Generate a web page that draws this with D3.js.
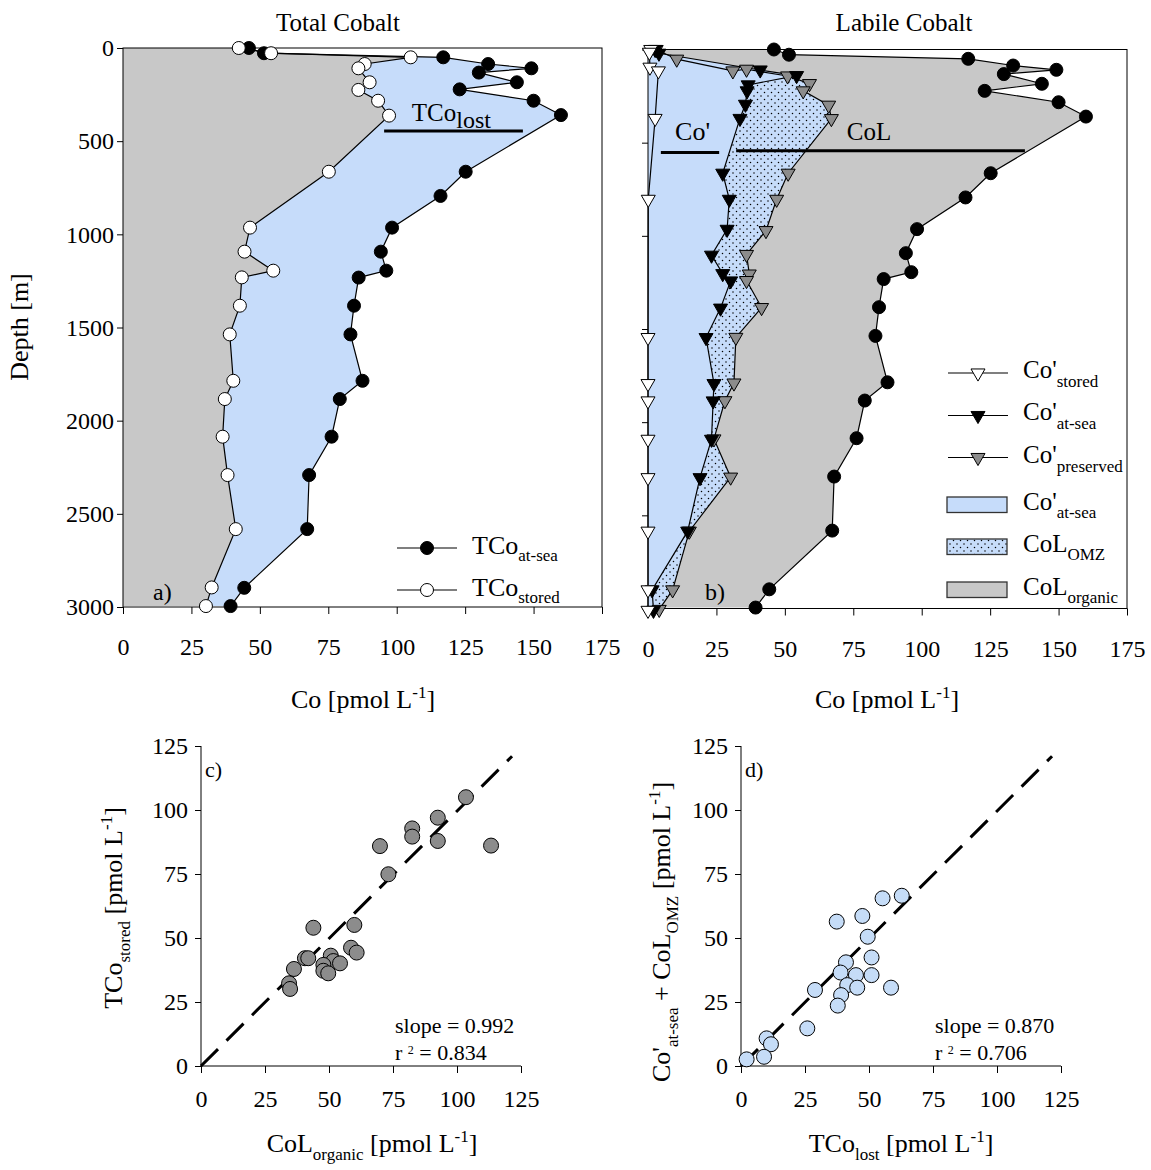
<!DOCTYPE html>
<html><head><meta charset="utf-8">
<script src="https://cdn.jsdelivr.net/npm/d3@7"></script>
<style>
body{margin:0;background:#fff}
text{font-family:"Liberation Serif","Times New Roman",serif;fill:#000;white-space:pre}
</style>
</head><body>
<svg id="chart" width="1151" height="1170"></svg>
<script>
// ---------------- DATA ----------------
// Panel a / b : total cobalt at sea (black circles)
const tcoSeaDepth = [0,28,50,86,109,132,184,222,283,360,664,794,964,1093,1195,1232,1383,1537,1786,1884,2086,2292,2582,2897,2995];
const tcoSea      = [46,51.5,117,133.4,149.2,130,143.9,123,150,160,125.2,116,98.3,94.2,96.2,86.1,84.4,83.1,87.5,79.2,76.2,68,67.3,44.3,39.3];
// Panel a : total cobalt stored (white circles)
const tcoStoredDepth = [0,28,50,86,109,184,225,283,363,664,964,1093,1195,1231,1383,1537,1786,1884,2086,2292,2582,2895,2995];
const tcoStored      = [42.3,54.1,105.1,88.3,86,90.1,86,93.2,97.2,75.2,46.4,44.4,54.9,43.4,42.7,39,40.3,37.2,36.4,38.2,41.2,32.4,30.3];
// Panel b : Co' preserved (grey triangles)
const coPresDepth = [0,52,115,106,142,183,222,299,371,664,804,972,1100,1205,1240,1385,1545,1790,1885,2090,2295,2585,2900,3005];
const coPres      = [3,10.5,31,36,51,59,56.7,66,67,51.2,47,43.1,36,37,36,41.5,32.1,31.4,28.1,24.1,30.2,15.1,9,4.1];
// Panel b : Co' at sea (black triangles)
const coSeaDepth = [0,20,110,140,190,222,294,370,664,804,965,1104,1203,1242,1388,1546,1793,1886,2092,2298,2585,2900,3010];
const coSea      = [2.6,4,41,54.3,36.6,36.2,35.6,33.6,27.3,29.7,28.9,23.2,27.3,30.2,26.5,21.2,24.1,23.8,23.2,19,14.5,1.5,2];
// Panel b : Co' stored (white triangles)
const coStoredDepth = [0,15,95,115,370,804,1546,1793,1886,2092,2298,2585,2900,3010];
const coStored      = [1,0.5,0.7,3.8,2.6,0.1,0,0,0,0,0,0,0,0];
// Panel c
const colOrganic = [103.5,92.5,82.5,82.5,92.5,113.3,69.9,73.2,43.9,59.9,58.6,60.8,40.6,41.9,50.7,51.7,54.3,47.8,47.8,49.7,36.3,34.4,34.8];
const tcoStoredC = [105,97,92.8,89.6,87.9,86.1,85.9,74.9,54,55.1,46.2,44.3,42.1,42.1,43.1,41,40.1,39.5,37.2,36.2,37.9,32.3,30.1];
// Panel d
const tcoLost = [62.8,55.3,47.4,37.4,49.5,51,41,38.9,44.9,51,41.5,45.4,58.6,28.9,39.1,37.8,25.9,10,11.7,9,2.2];
const coSum   = [66.5,65.5,58.6,56.4,50.5,42.4,40.5,36.5,35.5,35.5,31.6,30.6,30.6,29.7,27.7,23.6,14.7,10.8,8.5,3.6,2.6];
// ticks
const coTicks = [0,25,50,75,100,125,150,175];
const depthTicks = [0,500,1000,1500,2000,2500,3000];
const scTicks = [0,25,50,75,100,125];
const refLine = [[0,0],[121.5,121]];

// ---------------- STYLE ----------------
const BLUE = '#c6dcfa', GRAY = '#c8c8c8', MGRAY = '#8c8c8c', DBLUE = '#c5dcf7';
const svg = d3.select('#chart');
const defs = svg.append('defs');
const pat = defs.append('pattern').attr('id','dots').attr('width',7).attr('height',7).attr('patternUnits','userSpaceOnUse');
pat.append('rect').attr('width',7).attr('height',7).attr('fill',BLUE);
pat.append('circle').attr('cx',1.5).attr('cy',1.5).attr('r',0.75).attr('fill','#000');
pat.append('circle').attr('cx',5).attr('cy',5).attr('r',0.75).attr('fill','#000');

function rich(g, x, y, parts, opt = {}) {
  const t = g.append('text').attr('x', x).attr('y', y)
    .attr('font-size', opt.size || 25).attr('text-anchor', opt.anchor || 'start');
  if (opt.rotate) t.attr('transform', `rotate(-90,${x},${y})`);
  let shift = 0;
  parts.forEach(p => {
    const [s, k, sz] = typeof p === 'string' ? [p] : p;
    const ts = t.append('tspan').text(s);
    const target = k === 'sub' ? (opt.subOff || 8) : k === 'sup' ? -(opt.supOff || 10) : 0;
    if (target !== shift) ts.attr('dy', target - shift);
    shift = target;
    if (k) ts.attr('font-size', sz || opt.subSize || 17);
  });
  return t;
}
const pts = (ds, vs) => ds.map((d, i) => [vs[i], d]);

function styleAxis(g, size) {
  g.select('.domain').remove();
  g.selectAll('.tick line').attr('stroke', '#000');
  g.selectAll('.tick text').attr('font-size', size).attr('font-family', '"Liberation Serif",serif').attr('fill', '#000');
}

// ---------------- PROFILE PANELS ----------------
function profilePanel(x0, x1, y0, y1, yLabels) {
  const x = d3.scaleLinear().domain([0,175]).range([x0,x1]);
  const y = d3.scaleLinear().domain([0,3000]).range([y0,y1]);
  const g = svg.append('g');
  const gx = g.append('g').attr('transform', `translate(0,${y1})`)
    .call(d3.axisBottom(x).tickValues(coTicks).tickSize(7).tickPadding(24).tickSizeOuter(0));
  styleAxis(gx, 24);
  const gy = g.append('g').attr('transform', `translate(${x0},0)`)
    .call(d3.axisLeft(y).tickValues(depthTicks).tickSize(6).tickPadding(3).tickSizeOuter(0)
      .tickFormat(yLabels ? d3.format('d') : ''));
  styleAxis(gy, 24);
  return {x, y, g};
}
const line = (P) => d3.line().x(d => P.x(d[0])).y(d => P.y(d[1]));
function fillArea(P, data, fill) {
  const poly = [[0, data[0][1]], ...data, [0, data[data.length-1][1]]];
  P.g.append('path').attr('d', line(P)(poly) + 'Z').attr('fill', fill).attr('stroke', 'none');
}
function drawLine(P, data) {
  P.g.append('path').attr('d', line(P)(data)).attr('fill', 'none').attr('stroke', '#000').attr('stroke-width', 1.2);
}
function drawCircles(P, data, fill) {
  P.g.append('g').selectAll('circle').data(data).join('circle')
    .attr('cx', d => P.x(d[0])).attr('cy', d => P.y(d[1])).attr('r', 6.5)
    .attr('fill', fill).attr('stroke', '#000').attr('stroke-width', 1);
}
const tri = d3.symbol().type(d3.symbolTriangle).size(85);
function drawTris(P, data, fill) {
  P.g.append('g').selectAll('path').data(data).join('path')
    .attr('d', tri).attr('transform', d => `translate(${P.x(d[0])},${P.y(d[1])}) rotate(180)`)
    .attr('fill', fill).attr('stroke', '#000').attr('stroke-width', 1);
}
function frame(P) {
  const [a, b] = P.x.range(), [c, d] = P.y.range();
  P.g.append('rect').attr('x', a).attr('y', c).attr('width', b - a).attr('height', d - c)
    .attr('fill', 'none').attr('stroke', '#000').attr('stroke-width', 1);
}

// Panel a
const A = profilePanel(123, 602, 48, 607, true);
const seaA = pts(tcoSeaDepth, tcoSea), stA = pts(tcoStoredDepth, tcoStored);
fillArea(A, seaA, BLUE);
fillArea(A, stA, GRAY);
frame(A);
drawLine(A, seaA); drawLine(A, stA);
drawCircles(A, seaA, '#000'); drawCircles(A, stA, '#fff');
rich(A.g, A.x(105.5), A.y(392), ['TCo', ['lost', 'sub', 24]], {size: 25, subOff: 7});
A.g.append('line').attr('x1', A.x(95.4)).attr('x2', A.x(146.1)).attr('y1', A.y(445)).attr('y2', A.y(445))
  .attr('stroke', '#000').attr('stroke-width', 3);
rich(A.g, 153, 600, ['a)'], {size: 24});
// legend a
[[548, 554, '#000', 'at-sea'], [590, 596, '#fff', 'stored']].forEach(([ly, tb, f, s]) => {
  A.g.append('line').attr('x1', 397).attr('x2', 457).attr('y1', ly).attr('y2', ly).attr('stroke', '#000').attr('stroke-width', 1.2);
  A.g.append('circle').attr('cx', 427).attr('cy', ly).attr('r', 6.5).attr('fill', f).attr('stroke', '#000');
  rich(A.g, 472, tb, ['TCo', [s, 'sub']], {size: 26, subOff: 7});
});

// Panel b
const B = profilePanel(648, 1127, 49.5, 608.5, false);
const seaB = pts(tcoSeaDepth, tcoSea), presB = pts(coPresDepth, coPres), coSeaB = pts(coSeaDepth, coSea), coStB = pts(coStoredDepth, coStored);
fillArea(B, seaB, GRAY);
fillArea(B, presB, 'url(#dots)');
fillArea(B, coSeaB, BLUE);
frame(B);
drawLine(B, seaB); drawLine(B, presB); drawLine(B, coSeaB); drawLine(B, coStB);
drawCircles(B, seaB, '#000');
drawTris(B, presB, MGRAY);
drawTris(B, coSeaB, '#000');
drawTris(B, coStB, '#fff');
rich(B.g, B.x(9.9), B.y(488), ["Co'"], {size: 26});
B.g.append('line').attr('x1', B.x(4.7)).attr('x2', B.x(26)).attr('y1', B.y(553)).attr('y2', B.y(553)).attr('stroke', '#000').attr('stroke-width', 3);
rich(B.g, B.x(72.6), B.y(488), ['CoL'], {size: 25});
B.g.append('line').attr('x1', B.x(32.2)).attr('x2', B.x(137.7)).attr('y1', B.y(544)).attr('y2', B.y(544)).attr('stroke', '#000').attr('stroke-width', 3);
rich(B.g, 705, 600, ['b)'], {size: 24});
// legend b
[[373, 378, '#fff', 'stored'], [415.5, 420, '#000', 'at-sea'], [457.5, 463, MGRAY, 'preserved']].forEach(([ly, tb, f, s]) => {
  B.g.append('line').attr('x1', 948).attr('x2', 1008).attr('y1', ly).attr('y2', ly).attr('stroke', '#000').attr('stroke-width', 1.2);
  B.g.append('path').attr('d', tri).attr('transform', `translate(978,${ly}) rotate(180)`).attr('fill', f).attr('stroke', '#000');
  rich(B.g, 1023, tb, ["Co'", [s, 'sub']], {size: 25, subOff: 9});
});
[[497, 510, BLUE, "Co'", 'at-sea'], [539, 552, 'url(#dots)', 'CoL', 'OMZ'], [582, 595, GRAY, 'CoL', 'organic']].forEach(([ry, tb, f, m, s]) => {
  B.g.append('rect').attr('x', 947).attr('y', ry).attr('width', 60).attr('height', 15.5).attr('fill', f).attr('stroke', '#333').attr('stroke-width', 1.3);
  rich(B.g, 1023, tb, [m, [s, 'sub']], {size: 25, subOff: 8});
});

// axis & titles for a/b
rich(svg, 338, 31, ['Total Cobalt'], {size: 25, anchor: 'middle'});
rich(svg, 904, 31, ['Labile Cobalt'], {size: 25, anchor: 'middle'});
rich(svg, 363, 708, ['Co [pmol L', ['-1', 'sup'], ']'], {size: 26, anchor: 'middle'});
rich(svg, 887, 708, ['Co [pmol L', ['-1', 'sup'], ']'], {size: 26, anchor: 'middle'});
rich(svg, 28, 327, ['Depth [m]'], {size: 26, anchor: 'middle', rotate: true});

// ---------------- SCATTER PANELS ----------------
function scatterPanel(x0, xData, yData, fill, lbl, slope, r2) {
  const x = d3.scaleLinear().domain([0,125]).range([x0, x0 + 320]);
  const y = d3.scaleLinear().domain([0,125]).range([1066, 746]);
  const g = svg.append('g');
  const gx = g.append('g').attr('transform', 'translate(0,1066)')
    .call(d3.axisBottom(x).tickValues(scTicks).tickSize(7).tickPadding(17).tickSizeOuter(0));
  styleAxis(gx, 24);
  const gy = g.append('g').attr('transform', `translate(${x0},0)`)
    .call(d3.axisLeft(y).tickValues(scTicks).tickSize(6).tickPadding(7).tickSizeOuter(0));
  styleAxis(gy, 24);
  g.append('line').attr('x1', x0).attr('x2', x0 + 320).attr('y1', 1066).attr('y2', 1066).attr('stroke', '#000');
  g.append('line').attr('x1', x0).attr('x2', x0).attr('y1', 746).attr('y2', 1066).attr('stroke', '#000');
  g.append('path').attr('d', d3.line().x(d => x(d[0])).y(d => y(d[1]))(refLine))
    .attr('stroke', '#000').attr('stroke-width', 3).attr('stroke-dasharray', '24,12').attr('fill', 'none');
  g.append('g').selectAll('circle').data(xData.map((v, i) => [v, yData[i]])).join('circle')
    .attr('cx', d => x(d[0])).attr('cy', d => y(d[1])).attr('r', 7.5)
    .attr('fill', fill).attr('stroke', '#000').attr('stroke-width', 1);
  rich(g, x0 + 4, 777, [lbl], {size: 22});
  rich(g, x0 + 194, 1033, ['slope = ' + slope], {size: 22});
  rich(g, x0 + 194, 1060, ['r ', ['2', 'sup', 12], ' = ' + r2], {size: 22, supOff: 6});
  return g;
}
scatterPanel(201, colOrganic, tcoStoredC, MGRAY, 'c)', '0.992', '0.834');
scatterPanel(741, tcoLost, coSum, DBLUE, 'd)', '0.870', '0.706');
rich(svg, 372, 1152, ['CoL', ['organic', 'sub'], ' [pmol L', ['-1', 'sup'], ']'], {size: 26, anchor: 'middle'});
rich(svg, 901, 1152, ['TCo', ['lost', 'sub'], ' [pmol L', ['-1', 'sup'], ']'], {size: 26, anchor: 'middle'});
rich(svg, 122, 908, ['TCo', ['stored', 'sub'], ' [pmol L', ['-1', 'sup'], ']'], {size: 26, anchor: 'middle', rotate: true});
rich(svg, 670, 932, ["Co'", ['at-sea', 'sub'], ' + CoL', ['OMZ', 'sub'], ' [pmol L', ['-1', 'sup'], ']'], {size: 26, anchor: 'middle', rotate: true});
</script>
</body></html>
